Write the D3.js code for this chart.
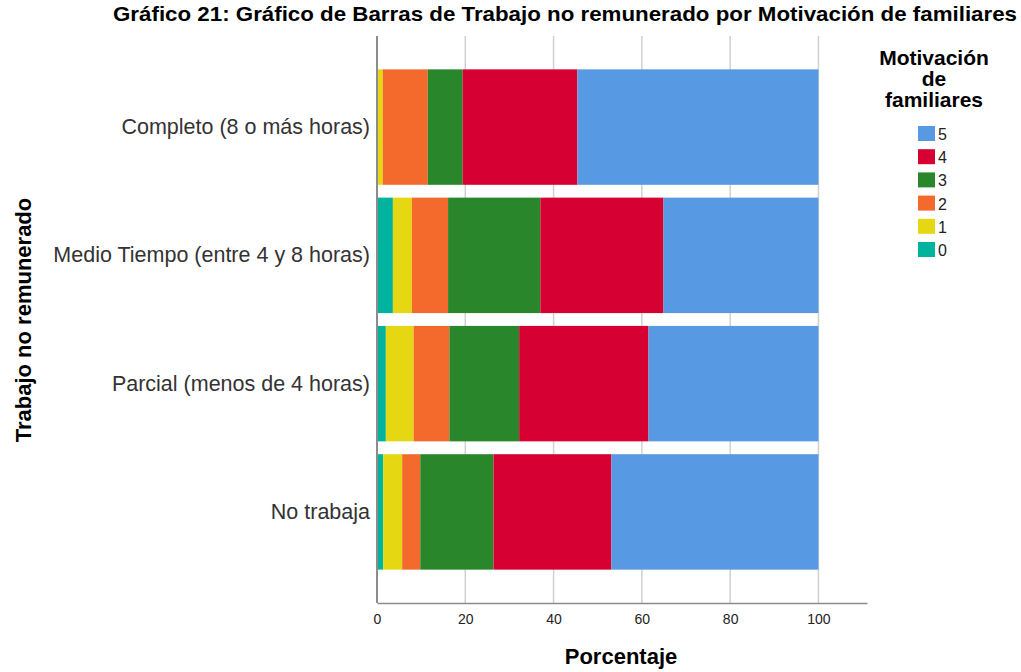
<!DOCTYPE html>
<html>
<head>
<meta charset="utf-8">
<script src="https://cdn.jsdelivr.net/npm/d3@7"></script>
<style>
  body { margin: 0; background: #fff; }
  text { font-family: "Liberation Sans", Arial, sans-serif; }
</style>
</head>
<body>
<div id="chart"></div>
<script>
// categories (top to bottom)
var categories = ["Completo (8 o más horas)", "Medio Tiempo (entre 4 y 8 horas)", "Parcial (menos de 4 horas)", "No trabaja"];
// stacking order, left to right
var levels = ["0", "1", "2", "3", "4", "5"];
// percentage per level, same order as categories
var mot0 = [0.0, 3.6, 2.0, 1.4];
var mot1 = [1.3, 4.3, 6.3, 4.3];
var mot2 = [10.2, 8.2, 8.1, 4.1];
var mot3 = [7.9, 20.9, 15.8, 16.6];
var mot4 = [26.0, 27.9, 29.3, 26.7];
var mot5 = [54.6, 35.1, 38.5, 46.9];
var xTicks = [0, 20, 40, 60, 80, 100];
var colors = ["#00b39f", "#e5d813", "#f4692c", "#2a862b", "#d60032", "#5799e2"];

var series = [mot0, mot1, mot2, mot3, mot4, mot5];
var table = categories.map(function(c, i) {
  var row = { cat: c };
  levels.forEach(function(l, j) { row[l] = series[j][i]; });
  return row;
});

var width = 1021, height = 672;
var svg = d3.select("#chart").append("svg")
  .attr("width", width).attr("height", height);

var x = d3.scaleLinear().domain([0, 111]).range([377, 867]);
var y = d3.scaleBand().domain(categories).range([36, 603])
  .paddingInner(0.1).paddingOuter(0.26);
var color = d3.scaleOrdinal().domain(levels).range(colors);

// gridlines
svg.append("g").selectAll("line")
  .data(xTicks.slice(1))
  .enter().append("line")
  .attr("x1", function(d) { return x(d); })
  .attr("x2", function(d) { return x(d); })
  .attr("y1", 36).attr("y2", 603)
  .attr("stroke", "#d0d0d0").attr("stroke-width", 1.5);

var stacked = d3.stack().keys(levels)(table);

svg.append("g").selectAll("g")
  .data(stacked)
  .enter().append("g")
  .attr("fill", function(d) { return color(d.key); })
  .selectAll("rect")
  .data(function(d) { return d; })
  .enter().append("rect")
  .attr("x", function(d) { return x(d[0]); })
  .attr("width", function(d) { return x(d[1]) - x(d[0]); })
  .attr("y", function(d) { return y(d.data.cat); })
  .attr("height", y.bandwidth());

// x axis
var xAxis = svg.append("g")
  .attr("transform", "translate(0,603)")
  .call(d3.axisBottom(x).tickValues(xTicks).tickSize(0).tickPadding(11).tickFormat(d3.format("d")));
xAxis.select(".domain").attr("stroke", "#8c8c8c").attr("stroke-width", 1.5);
xAxis.selectAll("text").style("font-size", "14px").attr("fill", "#222");

// y axis
var yAxis = svg.append("g")
  .attr("transform", "translate(" + x(0) + ",0)")
  .call(d3.axisLeft(y).tickSize(0).tickPadding(7));
yAxis.select(".domain").attr("stroke", "#8c8c8c").attr("stroke-width", 2)
  .attr("d", "M0,36V603");
yAxis.selectAll("text").style("font-size", "21.5px").attr("fill", "#333");

// title
svg.append("text")
  .attr("x", 565).attr("y", 21)
  .attr("text-anchor", "middle")
  .attr("textLength", 904).attr("lengthAdjust", "spacingAndGlyphs")
  .style("font-size", "20.5px").style("font-weight", "bold")
  .text("Gráfico 21: Gráfico de Barras de Trabajo no remunerado por Motivación de familiares");

// axis titles
svg.append("text")
  .attr("x", 621).attr("y", 664)
  .attr("text-anchor", "middle")
  .style("font-size", "22px").style("font-weight", "bold")
  .text("Porcentaje");

svg.append("text")
  .attr("transform", "translate(31,320) rotate(-90)")
  .attr("text-anchor", "middle")
  .style("font-size", "22px").style("font-weight", "bold")
  .text("Trabajo no remunerado");

// legend
var legendTitle = ["Motivación", "de", "familiares"];
svg.append("g").selectAll("text")
  .data(legendTitle)
  .enter().append("text")
  .attr("x", 934)
  .attr("y", function(d, i) { return 65 + i * 21; })
  .attr("text-anchor", "middle")
  .style("font-size", "21px").style("font-weight", "bold")
  .text(function(d) { return d; });

var legendKeys = levels.slice().reverse();
var legend = svg.append("g").selectAll("g")
  .data(legendKeys)
  .enter().append("g")
  .attr("transform", function(d, i) { return "translate(918," + (126 + i * 23.2) + ")"; });
legend.append("rect")
  .attr("width", 17).attr("height", 15)
  .attr("fill", function(d) { return color(d); });
legend.append("text")
  .attr("x", 20).attr("y", 14)
  .style("font-size", "16px").attr("fill", "#222")
  .text(function(d) { return d; });
</script>
</body>
</html>
